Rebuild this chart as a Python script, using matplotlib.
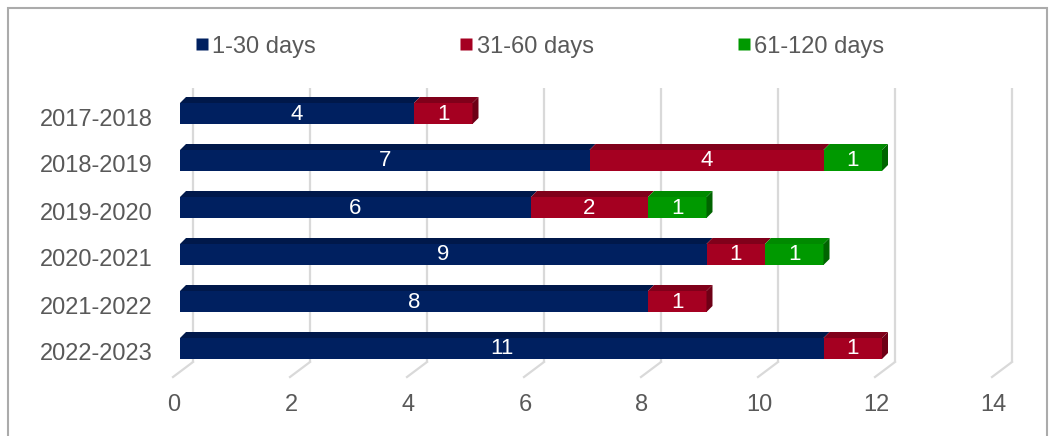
import matplotlib

matplotlib.use("Agg")
import matplotlib.pyplot as plt
from matplotlib.patches import Polygon, Rectangle
from matplotlib.lines import Line2D
from matplotlib.transforms import ScaledTranslation

plt.rcParams["font.family"] = ["Liberation Sans", "DejaVu Sans"]

# data
years = ["2017-2018", "2018-2019", "2019-2020", "2020-2021", "2021-2022", "2022-2023"]
days_1_30 = [4, 7, 6, 9, 8, 11]
days_31_60 = [1, 4, 2, 1, 1, 1]
days_61_120 = [0, 1, 1, 1, 0, 0]
series_names = ["1-30 days", "31-60 days", "61-120 days"]
x_ticks = [0, 2, 4, 6, 8, 10, 12, 14]

# colours: front, top, side
colors = [
    ("#002060", "#00184A", "#001440"),
    ("#A50021", "#80001A", "#6E0016"),
    ("#009900", "#008A00", "#006400"),
]
grid_color = "#D9D9D9"
text_color = "#595959"

W, H = 1055, 436
fig = plt.figure(figsize=(W / 100, H / 100), dpi=100)
ax = fig.add_axes([180 / W, 1 - 375.5 / H, 819 / W, 282 / H])
ax.set_xlim(0, 14)
ax.set_ylim(5.5, -0.5)
for s in ax.spines.values():
    s.set_visible(False)

# pixel -> data helpers
DX = 14 / 819
DY = 1 / 47

# back wall gridlines + floor diagonals
top_y = -0.5 - 5.5 * DY
floor_y = 5.5 - 13.5 * DY
for v in x_ticks:
    ax.plot([v + 13 * DX, v + 13 * DX], [top_y, floor_y], color=grid_color,
            lw=1.6, zorder=0, clip_on=False, solid_capstyle="butt")
    ax.plot([v + 13 * DX, v - 7 * DX], [floor_y, floor_y + 15 * DY],
            color=grid_color, lw=1.6, zorder=0, clip_on=False)

# bars with pseudo 3d faces
bar_h = 21 * DY
shift = -3.5 * DY
dep_x, dep_y = 6 * DX, 6 * DY
series = [days_1_30, days_31_60, days_61_120]
for i, yr in enumerate(years):
    left = 0
    seg = [(k, series[k][i]) for k in range(3) if series[k][i] > 0]
    for j, (k, val) in enumerate(seg):
        front, top, side = colors[k]
        yc = i + shift
        y0, y1 = yc - bar_h / 2, yc + bar_h / 2
        ax.barh(yc, val, left=left, height=bar_h, color=front, zorder=3,
                edgecolor="none")
        ax.add_patch(Polygon([(left, y0), (left + val, y0),
                              (left + val + dep_x, y0 - dep_y),
                              (left + dep_x, y0 - dep_y)],
                             closed=True, facecolor=top, edgecolor="none",
                             zorder=3, clip_on=False))
        if j == len(seg) - 1:
            r = left + val
            ax.add_patch(Polygon([(r, y0), (r + dep_x, y0 - dep_y),
                                  (r + dep_x, y1 - dep_y), (r, y1)],
                                 closed=True, facecolor=side,
                                 edgecolor="none", zorder=3, clip_on=False))
        ax.text(left + val / 2, yc + 0.5 * DY, str(val), color="white", fontsize=16,
                ha="center", va="center", zorder=4)
        left += val

# axes labels
ax.set_yticks(range(len(years)))
ax.set_yticklabels(years)
ax.set_xticks(x_ticks)
ax.set_xticklabels([str(v) for v in x_ticks])
ax.tick_params(axis="y", length=0, pad=19.5, labelsize=17, labelcolor=text_color)
ax.tick_params(axis="x", length=0, pad=13, labelsize=17, labelcolor=text_color)
for lab in ax.get_xticklabels():
    lab.set_transform(lab.get_transform() + ScaledTranslation(-0.06, 0, fig.dpi_scale_trans))

# legend
handles = [Line2D([], [], marker="s", linestyle="none", markersize=8,
                  markerfacecolor=c[0], markeredgecolor="none") for c in colors]
fig.legend(handles, series_names, loc="center", bbox_to_anchor=(540 / W, 1 - 46.5 / H),
           ncol=3, frameon=False, fontsize=17, labelcolor=text_color,
           handlelength=0.5, handletextpad=0.2, columnspacing=6.1)

# chart border
fig.add_artist(Rectangle((8 / W, -0.1), 1039 / W, 1 - 8 / H + 0.1,
                         transform=fig.transFigure, fill=False,
                         edgecolor="#ABABAB", lw=1.5))

fig.savefig("out.png", dpi=100)
